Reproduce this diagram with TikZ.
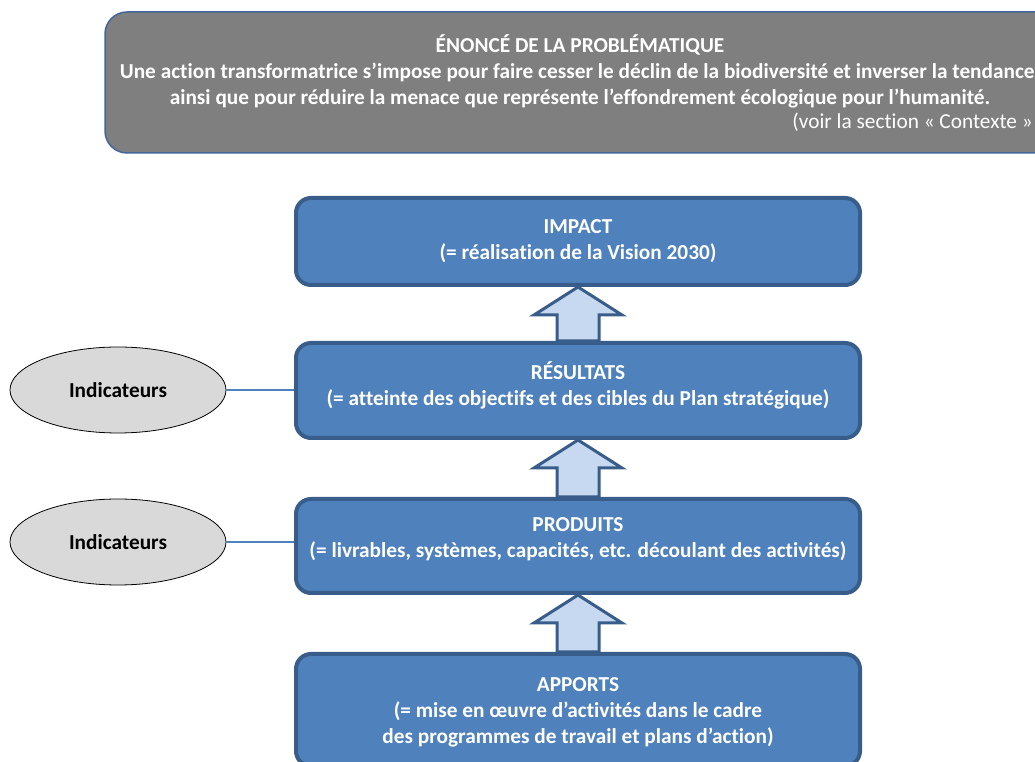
\documentclass[tikz,border=0pt]{standalone}
\usepackage{fontspec}
\setmainfont{Carlito}[Ligatures=NoCommon]
\usetikzlibrary{shapes.geometric,calc}
\definecolor{boxblue}{HTML}{4F81BD}
\definecolor{boxedge}{HTML}{385D8A}
\definecolor{arrowfill}{HTML}{C6D9F1}
\definecolor{probgray}{HTML}{7F7F7F}
\definecolor{probedge}{HTML}{41669A}
\definecolor{ellgray}{HTML}{D9D9D9}
\begin{document}
\begin{tikzpicture}[x=1pt,y=1pt,
  every node/.style={font=\fontsize{21.3}{26}\selectfont\bfseries},
  probbox/.style={draw=probedge,line width=1.5pt,fill=probgray,rounded corners=22pt,inner sep=0pt},
  stagebox/.style={draw=boxedge,line width=4pt,fill=boxblue,rounded corners=15pt,minimum width=564pt,inner sep=0pt},
  stagetext/.style={text=white,align=center,inner sep=0pt},
  indell/.style={ellipse,draw=black,line width=0.8pt,fill=ellgray,minimum width=216pt,minimum height=86pt,inner sep=0pt},
  blockarrow/.style={draw=boxedge,line width=3pt,fill=arrowfill,line join=miter},
  link/.style={draw=boxblue,line width=1.5pt}]
\useasboundingbox (0,0) rectangle (1035,762);
\clip (0,0) rectangle (1035,762);
% problem statement
\node[probbox,minimum width=955pt,minimum height=141pt] (prob) at (582.5,679.5) {};
\node[text=white,align=center,inner sep=0pt] (probtext) at (580,691)
  {ÉNONCÉ DE LA PROBLÉMATIQUE\\
   Une action transformatrice s’impose pour faire cesser le déclin de la biodiversité et inverser la tendance,\\
   ainsi que pour réduire la menace que représente l’effondrement écologique pour l’humanité.};
\node[text=white,anchor=east,inner sep=0pt,font=\fontsize{21.3}{26}\selectfont\mdseries] (voir) at (1033,640) {(voir la section « Contexte »};
% stage boxes
\node[stagebox,minimum height=87pt] (impact) at (578,520.5) {};
\node[stagetext] (impactt) at (578,521) {IMPACT\\(= réalisation de la Vision 2030)};
\node[stagebox,minimum height=95pt] (res) at (578,371.5) {};
\node[stagetext] (rest) at (578,377) {RÉSULTATS\\(= atteinte des objectifs et des cibles du Plan stratégique)};
\node[stagebox,minimum height=94pt] (prod) at (578,216) {};
\node[stagetext] (prodt) at (578,222.5) {PRODUITS\\(= livrables, systèmes, capacités, etc. découlant des activités)};
\node[stagebox,minimum height=112pt] (app) at (578,52) {};
\node[stagetext] (appt) at (578,50) {APPORTS\\(= mise en œuvre d’activités dans le cadre\\des programmes de travail et plans d’action)};
% block arrows
\foreach \lo/\hi in {res/impact,prod/res,app/prod}{
  \draw[blockarrow] (\hi.south) -- ($(\hi.south)+(44,-28)$) -- ($(\hi.south)+(21,-28)$)
    -- ($(\lo.north)+(21,0)$) -- ($(\lo.north)+(-21,0)$) -- ($(\hi.south)+(-21,-28)$)
    -- ($(\hi.south)+(-44,-28)$) -- cycle;
}
% indicators
\node[indell] (ind1) at (118,372) {Indicateurs};
\node[indell] (ind2) at (118,220) {Indicateurs};
\draw[link] (ind1.east) -- (ind1.east -| res.west);
\draw[link] (ind2.east) -- (ind2.east -| prod.west);
\end{tikzpicture}
\end{document}
